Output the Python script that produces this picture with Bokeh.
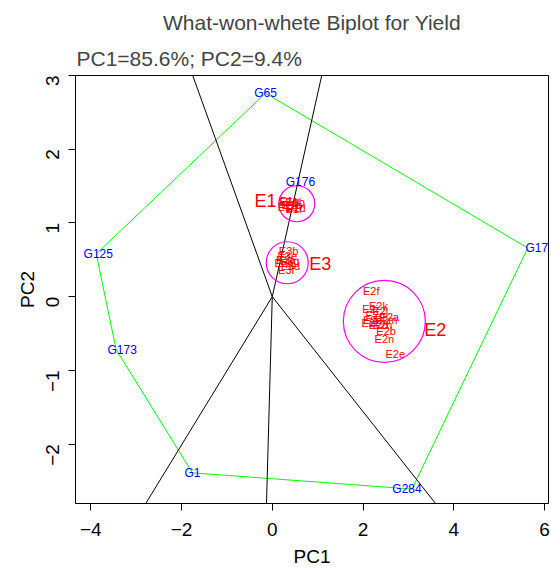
import numpy as np
from bokeh.plotting import figure
from bokeh.models import FixedTicker, Title, Range1d, LabelSet, ColumnDataSource
from bokeh.embed import file_html
from bokeh.resources import INLINE
from bokeh.core.properties import value

# ---------------- data ----------------
title_text = "What-won-whete Biplot for Yield"
subtitle_text = "PC1=85.6%; PC2=9.4%"
x_label = "PC1"
y_label = "PC2"
x_ticks = [-4, -2, 0, 2, 4, 6]
y_ticks = [-2, -1, 0, 1, 2, 3]

gen_names = ["G125", "G65", "G17", "G284", "G1", "G173", "G176"]
gen_pc1 = [-3.88, -0.15, 5.63, 3.08, -1.76, -3.44, 0.62]
gen_pc2 = [0.58, 2.76, 0.66, -2.61, -2.39, -0.72, 1.55]
hull_names = ["G125", "G65", "G17", "G284", "G1", "G173"]

env_names = ["E1a", "E1b", "E1c", "E1d", "E1e", "E1f", "E1g", "E1h",
             "E2a", "E2b", "E2c", "E2d", "E2e", "E2f", "E2g", "E2h", "E2i",
             "E2j", "E2k", "E2l", "E2m", "E2n",
             "E3a", "E3b", "E3c", "E3d", "E3e", "E3f", "E3g"]
env_pc1 = [0.36, 0.50, 0.33, 0.52, 0.42, 0.47, 0.38, 0.45,
           2.58, 2.51, 2.21, 2.34, 2.71, 2.18, 2.27, 2.43, 2.16,
           2.38, 2.34, 2.14, 2.51, 2.47,
           0.30, 0.36, 0.26, 0.40, 0.33, 0.31, 0.38]
env_pc2 = [1.29, 1.28, 1.22, 1.20, 1.25, 1.19, 1.30, 1.24,
           -0.27, -0.47, -0.31, -0.38, -0.78, 0.07, -0.25, -0.39, -0.17,
           -0.19, -0.13, -0.36, -0.31, -0.58,
           0.50, 0.62, 0.45, 0.42, 0.55, 0.36, 0.48]

group_names = ["E1", "E2", "E3"]
group_pc1 = [0.54, 2.47, 0.33]
group_pc2 = [1.26, -0.335, 0.46]
group_label_pc1 = [-0.15, 3.59, 1.06]
group_label_pc2 = [1.30, -0.455, 0.44]

# ---------------- figure ----------------
FONT = "Liberation Sans"
p = figure(width=551, height=569, output_backend="svg", toolbar_location=None,
           x_range=Range1d(-4.337, 6.088), y_range=Range1d(-2.806, 3.0),
           min_border_left=75, min_border_right=3, min_border_top=75,
           min_border_bottom=61)
p.background_fill_color = "white"
p.border_fill_color = "white"
p.xgrid.visible = False
p.ygrid.visible = False
p.outline_line_color = "black"
p.outline_line_width = 1
p.outline_line_alpha = 1

p.title.text = title_text
p.title.align = "center"
p.title.text_font = FONT
p.title.text_font_size = "21px"
p.title.text_font_style = "normal"
p.title.standoff = 11

sub = Title(text=subtitle_text, align="left", text_font=FONT, text_font_size="21px",
            text_font_style="normal", offset=1, standoff=11)
p.add_layout(sub, "above")

for ax, ticks, lab in ((p.xaxis[0], x_ticks, x_label), (p.yaxis[0], y_ticks, y_label)):
    ax.ticker = FixedTicker(ticks=ticks)
    ax.axis_line_color = None
    ax.major_tick_out = 7
    ax.major_tick_in = 0
    ax.minor_tick_out = 0
    ax.minor_tick_in = 0
    ax.major_tick_line_color = "black"
    ax.major_label_text_font = FONT
    ax.major_label_text_font_size = "19px"
    ax.major_label_text_color = "black"
    ax.axis_label = lab
    ax.axis_label_text_font = FONT
    ax.axis_label_text_font_size = "19px"
    ax.axis_label_text_font_style = "normal"
    ax.axis_label_text_color = "black"
p.xaxis[0].major_label_standoff = 12
p.xaxis[0].axis_label_standoff = 7
p.yaxis[0].major_label_orientation = np.pi / 2
p.yaxis[0].major_label_standoff = 16
p.yaxis[0].axis_label_standoff = -1

# polygon (convex hull of genotypes)
hx = [gen_pc1[gen_names.index(n)] for n in hull_names]
hy = [gen_pc2[gen_names.index(n)] for n in hull_names]
p.line(hx + hx[:1], hy + hy[:1], line_color="#00FF00", line_width=1)

# rays from origin perpendicular to hull sides
all_x = gen_pc1 + env_pc1
xmin, xmax = min(all_x), max(all_x)
rx, ry = [], []
for i in range(len(hull_names) - 1):
    x1, y1, x2, y2 = hx[i], hy[i], hx[i + 1], hy[i + 1]
    m = (y1 - y2) / (x1 - x2)
    mperp = -1.0 / m
    c2 = y2 - m * x2
    xint = -c2 / (m - mperp)
    xend = xmin if xint < 0 else xmax
    rx.append([0, xend])
    ry.append([0, mperp * xend])
p.multi_line(rx, ry, line_color="black", line_width=1)

# group circles
for gx, gy, sz in zip(group_pc1, group_pc2, [36, 82, 42]):
    p.scatter([gx], [gy], size=sz, marker="circle", fill_color=None,
              line_color="#FF00FF", line_width=1.2)

# environment labels
p.text(env_pc1, env_pc2, text=env_names, text_font=value(FONT), text_font_size="11px",
       text_color="red", text_align="center", text_baseline="middle")
p.text(group_label_pc1, group_label_pc2, text=group_names, text_font=value(FONT),
       text_font_size="18px", text_color="red", text_align="center", text_baseline="middle")

# genotype labels (annotation so they are not clipped at the frame)
gx_off = {"G17": 9, "G284": -5, "G173": 6, "G125": 2}
gsrc = ColumnDataSource(dict(x=gen_pc1, y=gen_pc2, name=gen_names,
                             xoff=[gx_off.get(n, 0) for n in gen_names]))
p.add_layout(LabelSet(x="x", y="y", text="name", source=gsrc, x_offset="xoff",
                      text_font=value(FONT), text_font_size="12px", text_color="blue",
                      text_align="center", text_baseline="middle"))

open("out.html", "w").write(file_html(p, INLINE))
